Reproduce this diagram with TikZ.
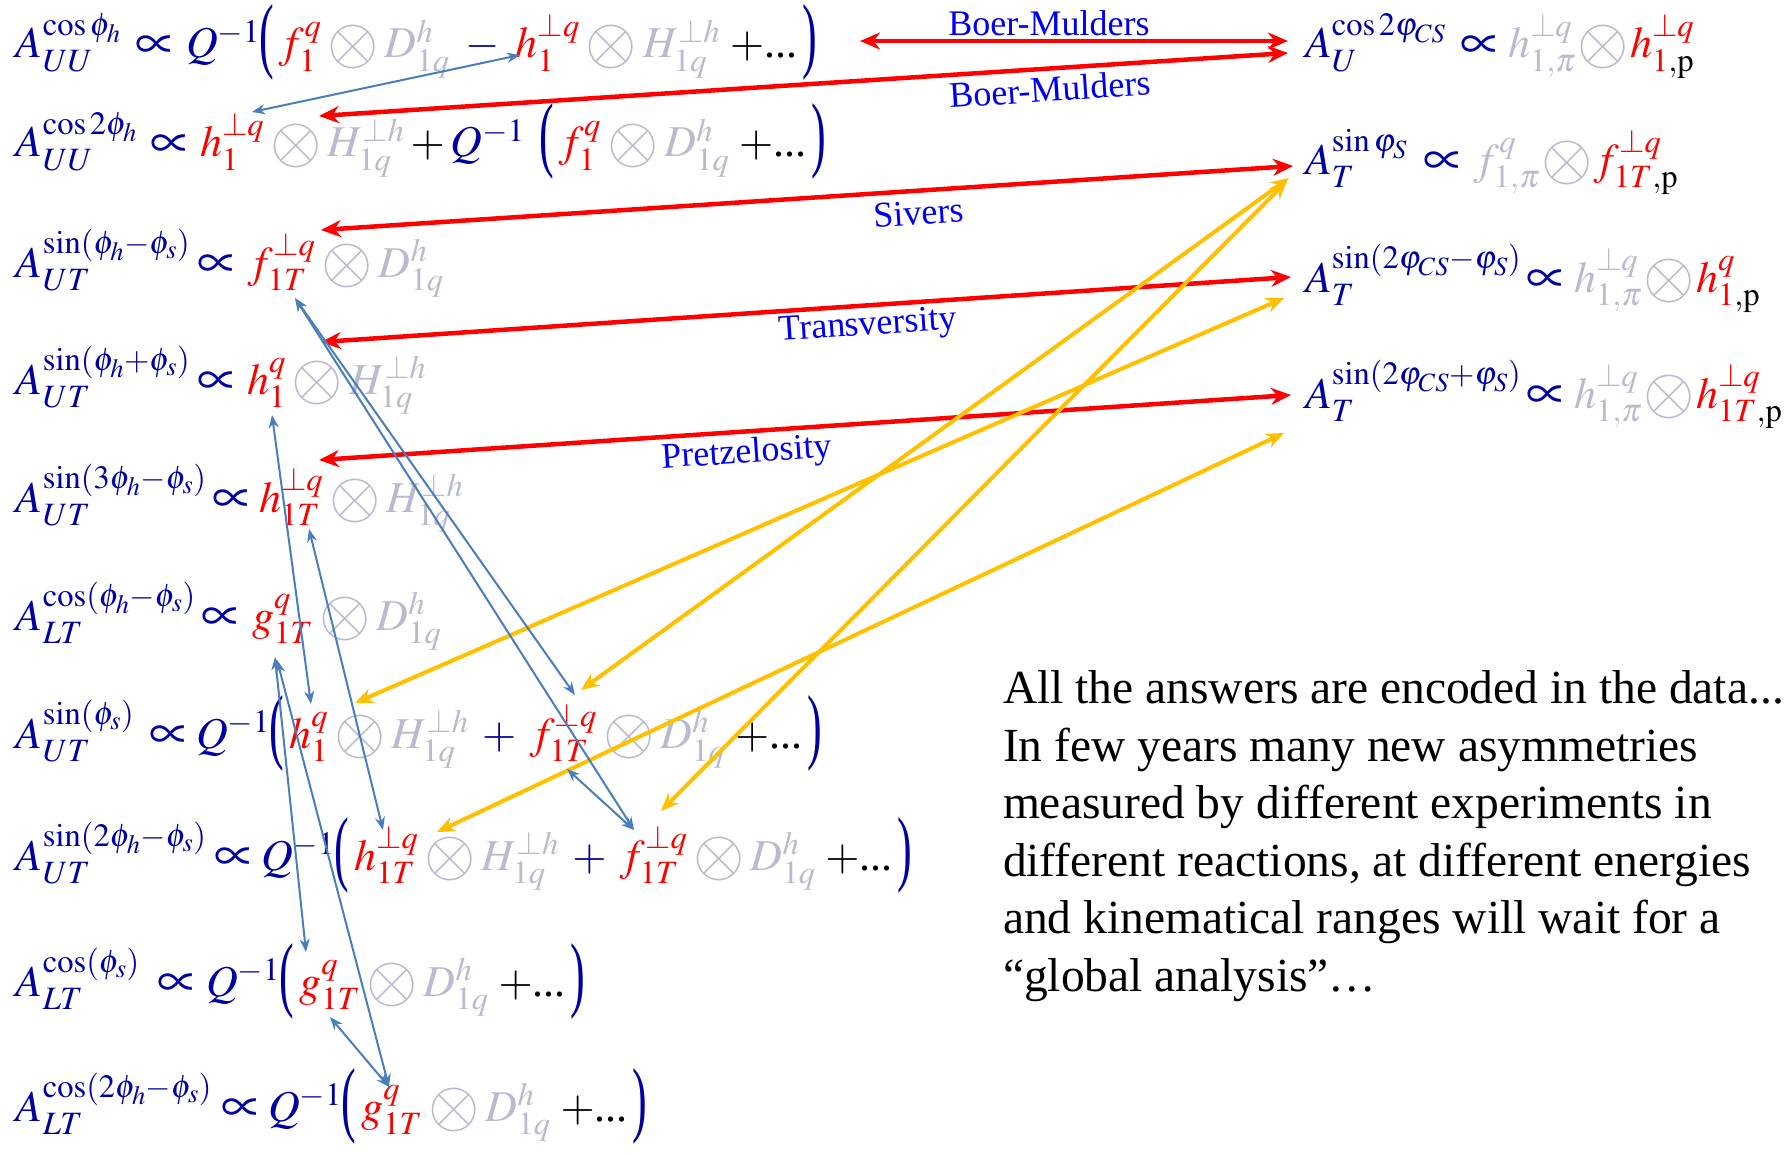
\documentclass[tikz,border=0pt]{standalone}
\usepackage{mathptmx}
\usepackage[no-math]{fontspec}
\setmainfont{Liberation Serif}
\usepackage{graphicx}
\usetikzlibrary{arrows.meta}
\definecolor{eqblue}{RGB}{0,0,160}
\definecolor{eqred}{RGB}{255,0,0}
\definecolor{eqgray}{RGB}{185,186,206}
\definecolor{lblblue}{RGB}{0,0,240}
\definecolor{arrred}{RGB}{255,0,0}
\definecolor{arryel}{RGB}{255,192,0}
\definecolor{arrblu}{RGB}{74,126,187}
\newcommand{\myred}[1]{{\color{eqred}#1}}
\newcommand{\mygray}[1]{{\color{eqgray}#1}}
\newcommand{\myblack}[1]{{\color{black}#1}}
\newcommand{\bigox}{\vcenter{\hbox{\scalebox{1.5}{$\otimes$}}}}
\newcommand{\opx}{\mathbin{\mygray{\bigox}}}
\newcommand{\opr}{\mskip 0.5mu\mathord{\mygray{\bigox}}\mskip 0.5mu}
\newcommand{\prop}{\vcenter{\hbox{\scalebox{1.25}{$\propto$}}}}
\newcommand{\pdots}{\myblack{+\mbox{...}}}
\newcommand{\pluss}{\mskip3mu\mathbin{+}\mskip3mu}
\newcommand{\minuss}{\mskip4mu\mathbin{-}\mskip4mu}
\newcommand{\lpar}{\mathopen{\hbox{\raisebox{-5pt}{\scalebox{1}[1.9]{(}}}}\mskip2mu}
\newcommand{\rpar}{\mskip2mu\mathclose{\hbox{\raisebox{-5pt}{\scalebox{1}[1.9]{)}}}}}
\begin{document}
\begin{tikzpicture}[x=1pt,y=-1pt,
  eq/.style={anchor=base west,inner sep=0pt,outer sep=0pt,font=\fontsize{44}{50}\selectfont,text=eqblue},
  txt/.style={anchor=base west,inner sep=0pt,outer sep=0pt,font=\fontsize{47.5}{57}\selectfont,text=black},
  lbl/.style={inner sep=0pt,font=\fontsize{36}{40}\selectfont,text=lblblue},
  redarr/.style={draw=arrred,line width=4.5pt,{Stealth[length=20pt,width=17pt]}-{Stealth[length=20pt,width=17pt]}},
  yelarr/.style={draw=arryel,line width=4pt,{Stealth[length=18pt,width=15pt]}-{Stealth[length=18pt,width=15pt]}},
  bluarr/.style={draw=arrblu,line width=2pt,{Stealth[length=13pt,width=10pt]}-{Stealth[length=13pt,width=10pt]}}]
\path[use as bounding box,fill=white] (0,0) rectangle (1787,1153);

% ---- left column
\node[eq] (l1a) at (16,58) {$A_{UU}^{\cos\phi_h}$};
\node[eq] (l1p) at (135,58) {$\prop$};
\node[eq] (l1b) at (186,58) {$Q^{-1}\lpar \myred{f_1^q}\opx\mygray{D_{1q}^h}\minuss\myred{h_1^{\perp q}}\opx\mygray{H_{1q}^{\perp h}}\;\pdots\rpar$};

\node[eq] (l2a) at (16,157) {$A_{UU}^{\cos2\phi_h}$};
\node[eq] (l2p) at (150,157) {$\prop$};
\node[eq] (l2b) at (200,157) {$\myred{h_1^{\perp q}}\opx\mygray{H_{1q}^{\perp h}}\mathbin{\myblack{+}}Q^{-1}\mskip6mu\lpar \myred{f_1^q}\opx\mygray{D_{1q}^h}\;\pdots\rpar$};

\node[eq] (l3a) at (16,277) {$A_{UT}^{\sin(\phi_h-\phi_s)}$};
\node[eq] (l3p) at (197,277) {$\prop$};
\node[eq] (l3b) at (248,277) {$\myred{f_{1T}^{\perp q}}\opx\mygray{D_{1q}^h}$};

\node[eq] (l4a) at (16,394) {$A_{UT}^{\sin(\phi_h+\phi_s)}$};
\node[eq] (l4p) at (197,394) {$\prop$};
\node[eq] (l4b) at (247,394) {$\myred{h_1^{q}}\opx\mygray{H_{1q}^{\perp h}}$};

\node[eq] (l5a) at (16,512) {$A_{UT}^{\sin(3\phi_h-\phi_s)}$};
\node[eq] (l5p) at (212,512) {$\prop$};
\node[eq] (l5b) at (259,512) {$\myred{h_{1T}^{\perp q}}\opx\mygray{H_{1q}^{\perp h}}$};

\node[eq] (l6a) at (16,630) {$A_{LT}^{\cos(\phi_h-\phi_s)}$};
\node[eq] (l6p) at (201,630) {$\prop$};
\node[eq] (l6b) at (252,630) {$\myred{g_{1T}^{q}}\opx\mygray{D_{1q}^h}$};

\node[eq] (l7a) at (16,748) {$A_{UT}^{\sin(\phi_s)}$};
\node[eq] (l7p) at (149,748) {$\prop$};
\node[eq] (l7b) at (196,748) {$Q^{-1}\lpar \myred{h_1^q}\opx\mygray{H_{1q}^{\perp h}}\pluss\myred{f_{1T}^{\perp q}}\opx\mygray{D_{1q}^h}\;\pdots\rpar$};

\node[eq] (l8a) at (16,870) {$A_{UT}^{\sin(2\phi_h-\phi_s)}$};
\node[eq] (l8p) at (214,870) {$\prop$};
\node[eq] (l8b) at (261,870) {$Q^{-1}\lpar \myred{h_{1T}^{\perp q}}\opx\mygray{H_{1q}^{\perp h}}\pluss\myred{f_{1T}^{\perp q}}\opx\mygray{D_{1q}^h}\;\pdots\rpar$};

\node[eq] (l9a) at (16,996) {$A_{LT}^{\cos(\phi_s)}$};
\node[eq] (l9p) at (157,996) {$\prop$};
\node[eq] (l9b) at (206,996) {$Q^{-1}\lpar \myred{g_{1T}^{q}}\opx\mygray{D_{1q}^h}\;\pdots\rpar$};

\node[eq] (l10a) at (16,1121) {$A_{LT}^{\cos(2\phi_h-\phi_s)}$};
\node[eq] (l10p) at (221,1121) {$\prop$};
\node[eq] (l10b) at (268,1121) {$Q^{-1}\lpar \myred{g_{1T}^{q}}\opx\mygray{D_{1q}^h}\;\pdots\rpar$};

% ---- right column
\node[eq] (r1a) at (1305,58) {$A_U^{\cos 2\varphi_{CS}}$};
\node[eq] (r1p) at (1460,58) {$\prop$};
\node[eq] (r1b) at (1508,58) {$\mygray{h_{1,\pi}^{\perp q}}\opr\myred{h_{1\myblack{,\mathrm{p}}}^{\perp q}}$};

\node[eq] (r2a) at (1305,174) {$A_T^{\sin\varphi_S}$};
\node[eq] (r2p) at (1423,174) {$\prop$};
\node[eq] (r2b) at (1474,174) {$\mygray{f_{1,\pi}^{q}}\opr\myred{f_{1T\myblack{,\mathrm{p}}}^{\perp q}}$};

\node[eq] (r3a) at (1305,292) {$A_T^{\sin(2\varphi_{CS}-\varphi_S)}$};
\node[eq] (r3p) at (1526,292) {$\prop$};
\node[eq] (r3b) at (1574,292) {$\mygray{h_{1,\pi}^{\perp q}}\opr\myred{h_{1\myblack{,\mathrm{p}}}^{q}}$};

\node[eq] (r4a) at (1305,408) {$A_T^{\sin(2\varphi_{CS}+\varphi_S)}$};
\node[eq] (r4p) at (1526,408) {$\prop$};
\node[eq] (r4b) at (1574,408) {$\mygray{h_{1,\pi}^{\perp q}}\opr\myred{h_{1T\myblack{,\mathrm{p}}}^{\perp q}}$};

% ---- text block
\node[txt] (t1) at (1003,703) {All the answers are encoded in the data...};
\node[txt] (t2) at (1003,761) {In few years many new asymmetries};
\node[txt] (t3) at (1003,818) {measured by different experiments in};
\node[txt] (t4) at (1003,876) {different reactions, at different energies};
\node[txt] (t5) at (1003,933) {and kinematical ranges will wait for a};
\node[txt] (t6) at (1003,991) {“global analysis”…};

% ---- arrow end points
\coordinate (bm1L) at (860,41);   \coordinate (bm1R) at (1288,41);
\coordinate (bm2L) at (319,116);  \coordinate (bm2R) at (1288,53);
\coordinate (sivL) at (321,230);  \coordinate (sivR) at (1293,166);
\coordinate (traL) at (321,342);  \coordinate (traR) at (1291,277);
\coordinate (preL) at (319,460);  \coordinate (preR) at (1291,395);

\coordinate (y1a) at (355,703);  \coordinate (y1b) at (1284,298);
\coordinate (y2a) at (581,690);  \coordinate (y2b) at (1289,178);
\coordinate (y3a) at (661,811);  \coordinate (y3b) at (1287,181);
\coordinate (y4a) at (437,832);  \coordinate (y4b) at (1284,433);

\coordinate (b1a) at (252,112);  \coordinate (b1b) at (520,55);
\coordinate (b2a) at (295,298);  \coordinate (b2b) at (575,695);
\coordinate (b3a) at (295,298);  \coordinate (b3b) at (634,830);
\coordinate (b4a) at (567,769);  \coordinate (b4b) at (634,830);
\coordinate (b5a) at (272,415);  \coordinate (b5b) at (311,704);
\coordinate (b6a) at (309,529);  \coordinate (b6b) at (383,830);
\coordinate (b7a) at (275,657);  \coordinate (b7b) at (306,952);
\coordinate (b8a) at (277,660);  \coordinate (b8b) at (389,1087);
\coordinate (b9a) at (330,1017); \coordinate (b9b) at (389,1087);

% ---- red arrows
\draw[redarr] (bm1L) -- (bm1R);
\draw[redarr] (bm2L) -- (bm2R);
\draw[redarr] (sivL) -- (sivR);
\draw[redarr] (traL) -- (traR);
\draw[redarr] (preL) -- (preR);

% ---- yellow arrows
\draw[yelarr] (y1a) -- (y1b);
\draw[yelarr] (y2a) -- (y2b);
\draw[yelarr] (y3a) -- (y3b);
\draw[yelarr] (y4a) -- (y4b);

% ---- blue arrows
\draw[bluarr] (b1a) -- (b1b);
\draw[bluarr] (b2a) -- (b2b);
\draw[bluarr] (b3a) -- (b3b);
\draw[bluarr] (b4a) -- (b4b);
\draw[bluarr] (b5a) -- (b5b);
\draw[bluarr] (b6a) -- (b6b);
\draw[bluarr] (b7a) -- (b7b);
\draw[bluarr] (b8a) -- (b8b);
\draw[bluarr] (b9a) -- (b9b);

% ---- labels
\node[lbl] (lbm1) at (1049,23) {Boer-Mulders};
\node[lbl,rotate=3.8] (lbm2) at (1050,89) {Boer-Mulders};
\node[lbl,rotate=3.7] (lsiv) at (919,213) {Sivers};
\node[lbl,rotate=3.8] (ltra) at (868,327) {Transversity};
\node[lbl,rotate=3.8] (lpre) at (747,454) {Pretzelosity};
\end{tikzpicture}
\end{document}
